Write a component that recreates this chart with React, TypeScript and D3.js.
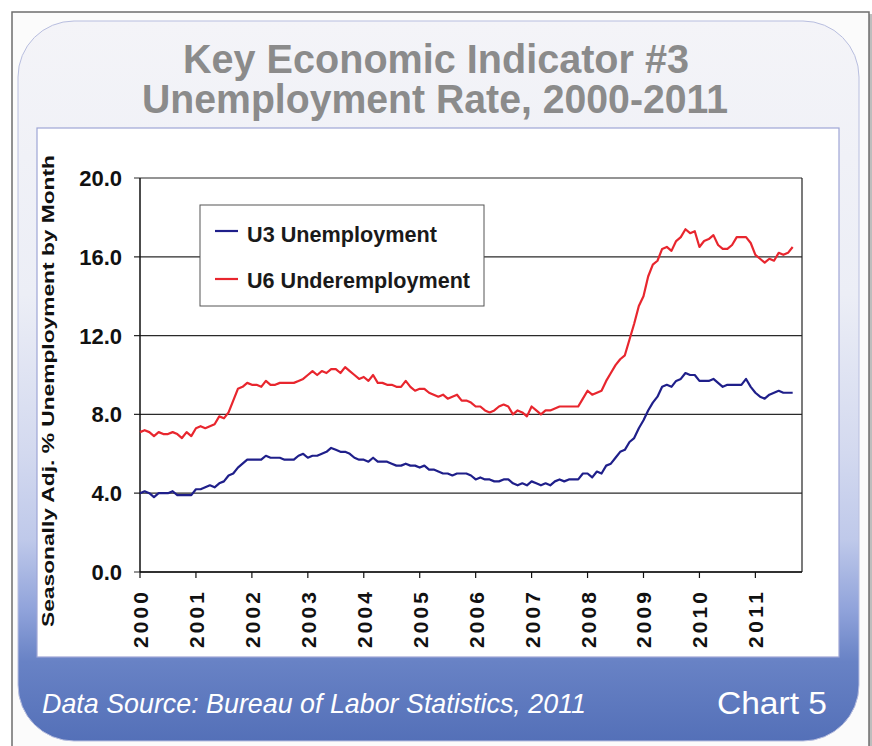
import React from "react";
import * as d3 from "d3";

const years = ["2000","2001","2002","2003","2004","2005","2006","2007","2008","2009","2010","2011"];
const yTicks = [0, 4, 8, 12, 16, 20];

const u3 = [
  4.0,4.1,4.0,3.8,4.0,4.0,4.0,4.1,3.9,3.9,3.9,3.9,
  4.2,4.2,4.3,4.4,4.3,4.5,4.6,4.9,5.0,5.3,5.5,5.7,
  5.7,5.7,5.7,5.9,5.8,5.8,5.8,5.7,5.7,5.7,5.9,6.0,
  5.8,5.9,5.9,6.0,6.1,6.3,6.2,6.1,6.1,6.0,5.8,5.7,
  5.7,5.6,5.8,5.6,5.6,5.6,5.5,5.4,5.4,5.5,5.4,5.4,
  5.3,5.4,5.2,5.2,5.1,5.0,5.0,4.9,5.0,5.0,5.0,4.9,
  4.7,4.8,4.7,4.7,4.6,4.6,4.7,4.7,4.5,4.4,4.5,4.4,
  4.6,4.5,4.4,4.5,4.4,4.6,4.7,4.6,4.7,4.7,4.7,5.0,
  5.0,4.8,5.1,5.0,5.4,5.5,5.8,6.1,6.2,6.6,6.8,7.3,
  7.7,8.2,8.6,8.9,9.4,9.5,9.4,9.7,9.8,10.1,10.0,10.0,
  9.7,9.7,9.7,9.8,9.6,9.4,9.5,9.5,9.5,9.5,9.8,9.4,
  9.1,8.9,8.8,9.0,9.1,9.2,9.1,9.1,9.1
];

const u6 = [
  7.1,7.2,7.1,6.9,7.1,7.0,7.0,7.1,7.0,6.8,7.1,6.9,
  7.3,7.4,7.3,7.4,7.5,7.9,7.8,8.1,8.7,9.3,9.4,9.6,
  9.5,9.5,9.4,9.7,9.5,9.5,9.6,9.6,9.6,9.6,9.7,9.8,
  10.0,10.2,10.0,10.2,10.1,10.3,10.3,10.1,10.4,10.2,10.0,9.8,
  9.9,9.7,10.0,9.6,9.6,9.5,9.5,9.4,9.4,9.7,9.4,9.2,
  9.3,9.3,9.1,9.0,8.9,9.0,8.8,8.9,9.0,8.7,8.7,8.6,
  8.4,8.4,8.2,8.1,8.2,8.4,8.5,8.4,8.0,8.2,8.1,7.9,
  8.4,8.2,8.0,8.2,8.2,8.3,8.4,8.4,8.4,8.4,8.4,8.8,
  9.2,9.0,9.1,9.2,9.7,10.1,10.5,10.8,11.0,11.8,12.6,13.5,
  14.0,15.0,15.6,15.8,16.4,16.5,16.3,16.8,17.0,17.4,17.2,17.3,
  16.5,16.8,16.9,17.1,16.6,16.4,16.4,16.6,17.0,17.0,17.0,16.7,
  16.1,15.9,15.7,15.9,15.8,16.2,16.1,16.2,16.5
];

const seriesNames = ["U3 Unemployment", "U6 Underemployment"];
const seriesColors = ["#1f1f8a", "#e8262e"];

const W = 872, H = 746;
const plot = { left: 140, right: 802, top: 178, bottom: 572 };

export default function App() {
  const x = d3.scaleLinear().domain([0, 142]).range([plot.left, plot.right]);
  const y = d3.scaleLinear().domain([0, 20]).range([plot.bottom, plot.top]);
  const line = d3.line<number>().x((_, i) => x(i)).y((d) => y(d));
  const font = "'Liberation Sans', Arial, sans-serif";
  const narrow = "'Liberation Sans Narrow', 'Liberation Sans', Arial, sans-serif";

  return (
    <svg width={W} height={H} style={{ position: "absolute", left: 0, top: 0 }} fontFamily={font}>
      <defs>
        <linearGradient id="panelGrad" x1="0" y1="0" x2="0" y2="1">
          <stop offset="0" stopColor="#f4f4f8" />
          <stop offset="0.38" stopColor="#eceef6" />
          <stop offset="0.6" stopColor="#d3d9ef" />
          <stop offset="0.72" stopColor="#bfc9ea" />
          <stop offset="0.82" stopColor="#8fa2da" />
          <stop offset="0.89" stopColor="#6882c5" />
          <stop offset="1" stopColor="#5470b8" />
        </linearGradient>
      </defs>
      <rect x={0} y={0} width={W} height={H} fill="#ffffff" />
      <rect x={14} y={14} width={858} height={740} fill="#bdbdbd" />
      <rect x={12} y={12} width={857} height={740} fill="#fbfbfb" stroke="#6e6e6e" strokeWidth={1.5} />
      <rect x={18} y={21} width={841} height={720} rx={56} ry={56} fill="url(#panelGrad)" stroke="#b8bedf" strokeWidth={1} />
      <rect x={37} y={128} width={802} height={529} fill="#ffffff" stroke="#9ea6d6" strokeWidth={1.2} />

      <text x={436} y={73} textAnchor="middle" fontSize={40} fontWeight="bold" fill="#8b8b8b" fontFamily={narrow}
        textLength={506} lengthAdjust="spacingAndGlyphs">Key Economic Indicator #3</text>
      <text x={435} y={113} textAnchor="middle" fontSize={40} fontWeight="bold" fill="#8b8b8b" fontFamily={narrow}
        textLength={586} lengthAdjust="spacingAndGlyphs">Unemployment Rate, 2000-2011</text>

      {yTicks.map((t) => (
        <g key={"g" + t}>
          <line x1={plot.left - 6} x2={plot.right} y1={y(t)} y2={y(t)} stroke="#2a2a2a" strokeWidth={1.2} />
          <text x={122} y={y(t) + 8} textAnchor="end" fontSize={22} fontWeight="bold" fill="#111">{t.toFixed(1)}</text>
        </g>
      ))}
      <line x1={plot.left} x2={plot.left} y1={plot.top} y2={plot.bottom} stroke="#111" strokeWidth={1.5} />
      <line x1={plot.right} x2={plot.right} y1={plot.top} y2={plot.bottom} stroke="#222" strokeWidth={1.2} />
      <line x1={plot.left} x2={plot.right} y1={plot.bottom} y2={plot.bottom} stroke="#111" strokeWidth={1.5} />

      {years.map((yr, i) => (
        <g key={yr}>
          <line x1={x(i * 12)} x2={x(i * 12)} y1={plot.bottom} y2={plot.bottom + 6} stroke="#111" strokeWidth={1.2} />
          <text transform={`translate(${x(i * 12) + 8},648) rotate(-90)`} fontSize={21} fontWeight="bold" fill="#111"
            textLength={56} lengthAdjust="spacing">{yr}</text>
        </g>
      ))}

      <text transform={`translate(54,391) rotate(-90)`} textAnchor="middle" fontSize={17} fontWeight="bold" fill="#111"
        textLength={472} lengthAdjust="spacingAndGlyphs">Seasonally Adj. % Unemployment by Month</text>

      <path d={line(u6) || ""} fill="none" stroke={seriesColors[1]} strokeWidth={2.2} strokeLinejoin="round" />
      <path d={line(u3) || ""} fill="none" stroke={seriesColors[0]} strokeWidth={2.2} strokeLinejoin="round" />

      <rect x={200} y={205} width={284} height={101} fill="#ffffff" stroke="#555" strokeWidth={1} />
      {seriesNames.map((n, i) => (
        <g key={n}>
          <line x1={215} x2={238} y1={231 + i * 48} y2={231 + i * 48} stroke={seriesColors[i]} strokeWidth={2.2} />
          <text x={247} y={242 + i * 46} fontSize={22} fontWeight="bold" fill="#1a1a1a"
            textLength={i === 0 ? 190 : 223} lengthAdjust="spacingAndGlyphs">{n}</text>
        </g>
      ))}

      <text x={42} y={713} fontSize={28} fontStyle="italic" fill="#ffffff" fontFamily={narrow} textLength={544}
        lengthAdjust="spacingAndGlyphs">Data Source: Bureau of Labor Statistics, 2011</text>
      <text x={717} y={714} fontSize={31} fill="#ffffff" textLength={110} lengthAdjust="spacingAndGlyphs">Chart 5</text>
    </svg>
  );
}
